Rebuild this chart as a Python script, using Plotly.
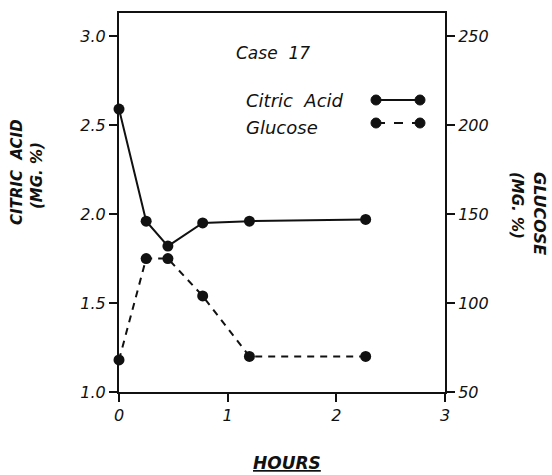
import plotly.graph_objects as go

hours = [0, 0.25, 0.45, 0.77, 1.2, 2.27]
citric_acid = [2.59, 1.96, 1.82, 1.95, 1.96, 1.97]
glucose = [68, 125, 125, 104, 70, 70]

x_ticks = [0, 1, 2, 3]
x_labels = ["0", "1", "2", "3"]
y1_ticks = [1.0, 1.5, 2.0, 2.5, 3.0]
y1_labels = ["1.0", "1.5", "2.0", "2.5", "3.0"]
y2_ticks = [50, 100, 150, 200, 250]
y2_labels = ["50", "100", "150", "200", "250"]

FONT = "DejaVu Sans"
ink = "#111111"

fig = go.Figure()
fig.add_trace(go.Scatter(
    x=hours, y=citric_acid, mode="lines+markers", name="Citric Acid",
    line=dict(color=ink, width=2), marker=dict(size=11, color=ink),
    yaxis="y", cliponaxis=False))
fig.add_trace(go.Scatter(
    x=hours, y=glucose, mode="lines+markers", name="Glucose",
    line=dict(color=ink, width=2, dash="7px,6px"), marker=dict(size=11, color=ink),
    yaxis="y2", cliponaxis=False))

tickfont = dict(family=FONT, size=16, color=ink, style="italic")

fig.update_layout(
    width=552, height=475,
    margin=dict(l=119, r=107, t=13, b=83),
    paper_bgcolor="white", plot_bgcolor="white",
    showlegend=False,
    xaxis=dict(range=[0, 3], tickvals=x_ticks, ticktext=x_labels,
               showgrid=False, zeroline=False, showline=True, linecolor=ink, linewidth=2,
               mirror=True, ticks="outside", ticklen=8, tickwidth=2, tickcolor=ink,
               tickfont=tickfont),
    yaxis=dict(range=[1.0, 3.13], tickvals=y1_ticks, ticktext=y1_labels,
               showgrid=False, zeroline=False, showline=True, linecolor=ink, linewidth=2,
               ticks="outside", ticklen=8, tickwidth=2, tickcolor=ink,
               tickfont=tickfont),
    yaxis2=dict(range=[50, 263], tickvals=y2_ticks, ticktext=y2_labels,
                overlaying="y", side="right",
                showgrid=False, zeroline=False, showline=True, linecolor=ink, linewidth=2,
                ticks="outside", ticklen=8, tickwidth=2, tickcolor=ink,
                tickfont=tickfont),
)

def px_x(px):
    return (px - 119) / 326.0

def px_y(py):
    return (392 - py) / 379.0

def f(size, bold=False):
    return dict(family=FONT, size=size, color=ink, style="italic",
                weight="bold" if bold else "normal")

def note(text, cx, cy, font, angle=0, xanchor="center"):
    return dict(text=text, x=px_x(cx), y=px_y(cy), xref="paper", yref="paper",
                xanchor=xanchor, yanchor="middle", textangle=angle,
                showarrow=False, font=font)

ann = [
    note("Case  17", 273, 53, f(17)),
    note("Citric  Acid", 244, 100, f(18), xanchor="left"),
    note("Glucose", 244, 127, f(18), xanchor="left"),
    note("CITRIC  ACID", 17, 172, f(15, True), angle=-90),
    note("(MG. %)", 37, 176, f(15, True), angle=-90),
    note("GLUCOSE", 540, 213, f(16, True), angle=90),
    note("(MG. %)", 517, 205, f(15, True), angle=90),
    note("<u>HOURS</u>", 287, 463, f(17, True)),
]
fig.update_layout(annotations=ann)

# legend key (decorative) in paper coordinates
shapes = []
for py, dash in [(100, "solid"), (123, "dash")]:
    shapes.append(dict(type="line", xref="paper", yref="paper",
                       x0=px_x(376), x1=px_x(420), y0=px_y(py), y1=px_y(py),
                       line=dict(color=ink, width=2, dash=dash)))
    for cx in (376, 420):
        shapes.append(dict(type="circle", xref="paper", yref="paper",
                           xsizemode="pixel", ysizemode="pixel",
                           xanchor=px_x(cx), yanchor=px_y(py),
                           x0=-5, x1=5, y0=-5, y1=5,
                           fillcolor=ink, line=dict(color=ink, width=1)))
fig.update_layout(shapes=shapes)

fig.write_html("out.html", config={"displayModeBar": False},
               post_script="document.body.style.margin='0';document.body.style.padding='0';")
